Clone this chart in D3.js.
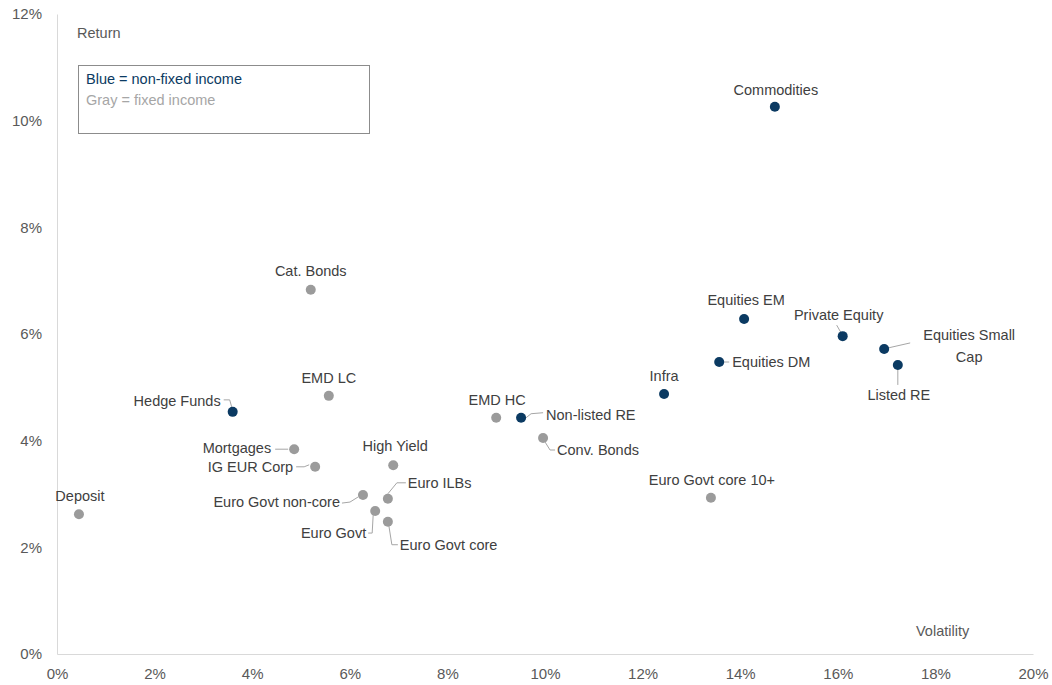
<!DOCTYPE html>
<html>
<head>
<meta charset="utf-8">
<script src="https://cdn.jsdelivr.net/npm/d3@7"></script>
<style>
  body { margin: 0; background: #fff; }
  text { font-family: "Liberation Sans", Arial, sans-serif; }
</style>
</head>
<body>
<div id="chart"></div>
<script>
// asset classes, volatility (%), return (%), type
var names = ["Deposit", "Hedge Funds", "Cat. Bonds", "EMD LC", "Mortgages", "IG EUR Corp",
  "High Yield", "Euro Govt non-core", "Euro ILBs", "Euro Govt", "Euro Govt core",
  "EMD HC", "Non-listed RE", "Conv. Bonds", "Infra", "Euro Govt core 10+",
  "Equities EM", "Equities DM", "Commodities", "Private Equity", "Equities Small Cap", "Listed RE"]
var volatility = [0.45, 3.6, 5.2, 5.57, 4.86, 5.29, 6.89, 6.27, 6.78, 6.52, 6.78,
  9.0, 9.51, 9.96, 12.44, 13.4, 14.08, 13.57, 14.71, 16.1, 16.95, 17.23]
var returns = [2.62, 4.54, 6.83, 4.84, 3.84, 3.51, 3.54, 2.98, 2.91, 2.68, 2.48,
  4.43, 4.43, 4.05, 4.875, 2.93, 6.28, 5.475, 10.26, 5.96, 5.72, 5.42]
var fixedIncome = [true, false, true, true, true, true, true, true, true, true, true,
  true, false, true, false, true, false, false, false, false, false, false]

var xTicks = [0, 2, 4, 6, 8, 10, 12, 14, 16, 18, 20]
var yTicks = [0, 2, 4, 6, 8, 10, 12]

// label placement relative to the dot: [dx, dy, anchor], and leader polyline
var labelPos = {
  "Deposit": [1, -13, "middle"],
  "Hedge Funds": [-12, -6, "end"],
  "Cat. Bonds": [0, -14, "middle"],
  "EMD LC": [0, -13, "middle"],
  "Mortgages": [-23, 4, "end"],
  "IG EUR Corp": [-22, 5, "end"],
  "High Yield": [2, -14, "middle"],
  "Euro Govt non-core": [-23, 12, "end"],
  "Euro ILBs": [20, -11, "start"],
  "Euro Govt": [-9, 27, "end"],
  "Euro Govt core": [12, 28, "start"],
  "EMD HC": [1, -13, "middle"],
  "Non-listed RE": [25, 2, "start"],
  "Conv. Bonds": [14, 17, "start"],
  "Infra": [0, -13, "middle"],
  "Euro Govt core 10+": [1, -13, "middle"],
  "Equities EM": [2, -14, "middle"],
  "Equities DM": [13, 5, "start"],
  "Commodities": [1, -12, "middle"],
  "Private Equity": [-4, -16, "middle"],
  "Equities Small Cap": [85, -9, "middle"],
  "Listed RE": [1, 35, "middle"]
}
var leaders = {
  "Hedge Funds": [[-9, -12], [-3, -12], [-1, -5]],
  "Mortgages": [[-19, 0], [-6, 0]],
  "IG EUR Corp": [[-19, 0], [-11, 0], [-6, -2]],
  "Euro Govt non-core": [[-21, 8], [-13, 7], [-5, 2]],
  "Euro ILBs": [[0, -5], [9, -16], [18, -16]],
  "Euro Govt": [[-2, 4], [-3, 22], [-7, 22]],
  "Euro Govt core": [[1, 4], [4, 23], [10, 23]],
  "Non-listed RE": [[5, 0], [10, -4], [22, -5]],
  "Conv. Bonds": [[2, 4], [7, 12], [12, 12]],
  "Equities DM": [[4, 0], [10, 0]],
  "Private Equity": [[-2, -4], [-6, -11]],
  "Equities Small Cap": [[4, -1], [26, -6]],
  "Listed RE": [[0, 4], [0, 20]]
}

var width = 1052, height = 685

var svg = d3.select("#chart").append("svg")
    .attr("width", width)
    .attr("height", height)

var x = d3.scaleLinear().domain([0, 20]).range([57, 1033])
var y = d3.scaleLinear().domain([0, 12]).range([654, 14])

var xAxis = svg.append("g")
    .attr("transform", "translate(0," + y(0) + ")")
    .call(d3.axisBottom(x).tickValues(xTicks).tickSize(0).tickPadding(14)
      .tickFormat(function(d) { return d + "%" }))
xAxis.select(".domain").attr("stroke", "#d9d9d9")

var yAxis = svg.append("g")
    .attr("transform", "translate(" + x(0) + ",0)")
    .call(d3.axisLeft(y).tickValues(yTicks).tickSize(0).tickPadding(15)
      .tickFormat(function(d) { return d + "%" }))
yAxis.select(".domain").attr("stroke", "#d9d9d9")

svg.selectAll(".tick text")
    .attr("font-family", "Liberation Sans, Arial, sans-serif")
    .attr("font-size", "15px")
    .attr("fill", "#595959")

svg.append("text")
    .attr("x", 77).attr("y", 38)
    .attr("font-size", "14.5px").attr("fill", "#595959")
    .text("Return")

svg.append("text")
    .attr("x", 916).attr("y", 636)
    .attr("font-size", "14.5px").attr("fill", "#595959")
    .text("Volatility")

// legend box
svg.append("rect")
    .attr("x", 78.5).attr("y", 65.5)
    .attr("width", 291).attr("height", 68)
    .attr("fill", "none").attr("stroke", "#8c8c8c")
svg.append("text")
    .attr("x", 86).attr("y", 84)
    .attr("font-size", "14.5px").attr("fill", "#0b3a62")
    .text("Blue = non-fixed income")
svg.append("text")
    .attr("x", 86).attr("y", 105)
    .attr("font-size", "14.5px").attr("fill", "#a6a6a6")
    .text("Gray = fixed income")

var data = names.map(function(n, i) {
  return { name: n, vol: volatility[i], ret: returns[i], fixed: fixedIncome[i] }
})

var line = d3.line()

// leader lines
svg.selectAll(".leader")
    .data(data.filter(function(d) { return leaders[d.name] }))
    .enter().append("path")
    .attr("class", "leader")
    .attr("fill", "none")
    .attr("stroke", "#a6a6a6")
    .attr("stroke-width", 1)
    .attr("d", function(d) {
      return line(leaders[d.name].map(function(p) {
        return [x(d.vol) + p[0], y(d.ret) + p[1]]
      }))
    })

svg.selectAll(".dot")
    .data(data)
    .enter().append("circle")
    .attr("class", "dot")
    .attr("cx", function(d) { return x(d.vol) })
    .attr("cy", function(d) { return y(d.ret) })
    .attr("r", 5)
    .attr("fill", function(d) { return d.fixed ? "#9b9b9b" : "#0b3a62" })

svg.selectAll(".label")
    .data(data)
    .enter().append("text")
    .attr("class", "label")
    .attr("text-anchor", function(d) { return labelPos[d.name][2] })
    .attr("font-size", "14.5px")
    .attr("fill", "#404040")
    .each(function(d) {
      var t = d3.select(this)
      var lx = x(d.vol) + labelPos[d.name][0]
      var ly = y(d.ret) + labelPos[d.name][1]
      // the small cap label wraps onto two lines
      var lines = d.name === "Equities Small Cap" ? ["Equities Small", "Cap"] : [d.name]
      lines.forEach(function(s, i) {
        t.append("tspan").attr("x", lx).attr("y", ly + i * 22).text(s)
      })
    })
</script>
</body>
</html>
